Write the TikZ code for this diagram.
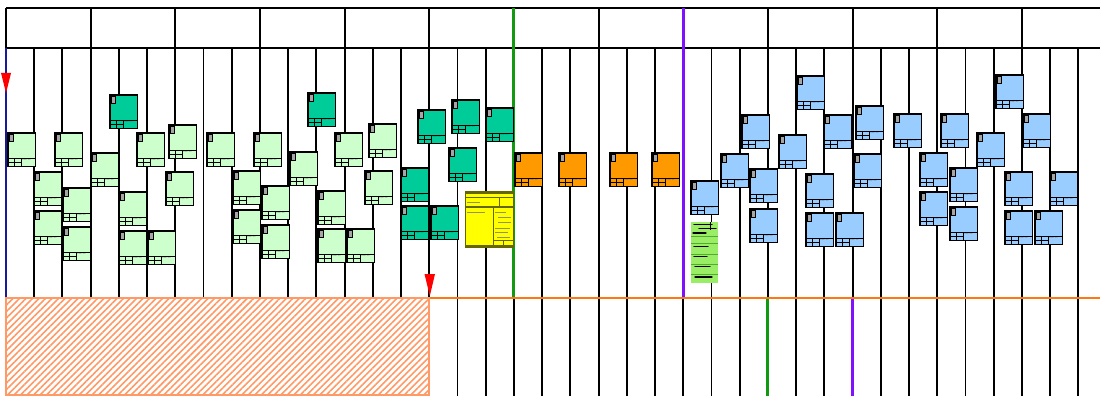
\documentclass[tikz,border=0pt]{standalone}
\usetikzlibrary{patterns.meta}
\definecolor{lgreen}{HTML}{CCFFCC}
\definecolor{teal2}{HTML}{00CC99}
\definecolor{orng}{HTML}{FF9900}
\definecolor{lblue}{HTML}{99CCFF}
\definecolor{yel}{HTML}{FFFF00}
\definecolor{strip}{HTML}{99EE66}
\definecolor{stripline}{HTML}{55AA33}
\definecolor{grn}{HTML}{119911}
\definecolor{purp}{HTML}{7F11FF}
\definecolor{orline}{HTML}{FF7711}
\definecolor{hatch}{HTML}{FF9966}
\definecolor{dblue}{HTML}{1A1A99}
\definecolor{olv}{HTML}{666600}
\tikzset{
  cardbox/.style={draw=black, line width=1.3pt, anchor=north west, minimum width=27.5pt, minimum height=33.5pt, inner sep=0pt, outer sep=0pt},
  cardline/.style={draw=black, line width=0.9pt},
  iconbox/.style={draw=black, line width=0.8pt, fill=black!35},
  tinytext/.style={font=\fontsize{1.6}{2}\selectfont, inner sep=0pt, text=black!70},
  rule/.style={draw=black, line width=1.9pt},
  hdr/.style={draw=black, line width=1.9pt},
}
\newcommand{\card}[4]{%
  \node[cardbox, fill=#4] (#1) at (#2,#3) {};
  \begin{scope}[shift={(#2,#3)}]
    \draw[iconbox] (1.6,1.6) rectangle (5,8);
    \draw[cardline] (0,25.3) -- (27.5,25.3);
    \draw[cardline] (6.5,25.3) -- (6.5,33.5) (13,25.3) -- (13,33.5) (0,29.4) -- (13,29.4);
    \node[tinytext, anchor=west] at (13.6,27.3) {Unknown};
  \end{scope}}
\begin{document}
\begin{tikzpicture}[x=1pt,y=-1pt]
\useasboundingbox (0,0) rectangle (1100,396);
% header
\draw[hdr] (6,8) -- (1100,8);
\draw[hdr] (6,48) -- (1100,48);
\foreach \k in {0,...,12} {
  \draw[hdr] ({6+84.66*\k},8) -- ({6+84.66*\k},48);
}
% vertical rules
\foreach \i in {1,...,38} {
  \draw[rule] ({6+28.22*\i},48) -- ({6+28.22*\i},298);
}
\foreach \i in {16,...,38} {
  \draw[rule] ({6+28.22*\i},298) -- ({6+28.22*\i},396);
}
\draw[dblue, line width=2.2pt] (6,48) -- (6,298);
\draw[dblue, line width=2pt] ({6+28.22*15},298) -- ({6+28.22*15},396);
\draw[grn, line width=3pt] ({6+28.22*18},8) -- ({6+28.22*18},298);
\draw[purp, line width=3pt] ({6+28.22*24},8) -- ({6+28.22*24},298);
\draw[grn, line width=3pt] ({6+28.22*27},298) -- ({6+28.22*27},396);
\draw[purp, line width=3pt] ({6+28.22*30},298) -- ({6+28.22*30},396);
% orange line and hatched area
\draw[orline, line width=2pt] (6,298) -- (1100,298);
\path[pattern={Lines[angle=45,distance=4.6pt,line width=1.6pt]}, pattern color=hatch] (6,298) rectangle (429,395);
\draw[hatch, line width=1.8pt] (6,298) rectangle (429,395);
% light green group 1
\card{a1}{8}{133}{lgreen}
\card{a2}{55}{133}{lgreen}
\card{a3}{34}{172}{lgreen}
\card{a4}{34}{211}{lgreen}
\card{a5}{63}{188}{lgreen}
\card{a6}{63}{227}{lgreen}
\card{a7}{91}{153}{lgreen}
\card{a8}{119}{192}{lgreen}
\card{a9}{119}{231}{lgreen}
\card{a10}{148}{231}{lgreen}
\card{a11}{137}{133}{lgreen}
\card{a12}{169}{125}{lgreen}
\card{a13}{166}{172}{lgreen}
\card{t1}{110}{95}{teal2}
% light green group 2
\card{b1}{207}{133}{lgreen}
\card{b2}{254}{133}{lgreen}
\card{b3}{233}{171}{lgreen}
\card{b4}{233}{210}{lgreen}
\card{b5}{262}{186}{lgreen}
\card{b6}{262}{225}{lgreen}
\card{b7}{290}{152}{lgreen}
\card{b8}{318}{191}{lgreen}
\card{b9}{318}{229}{lgreen}
\card{b10}{347}{229}{lgreen}
\card{b11}{335}{133}{lgreen}
\card{b12}{369}{124}{lgreen}
\card{b13}{365}{171}{lgreen}
\card{t2}{308}{93}{teal2}
% teal group
\card{t3}{418}{110}{teal2}
\card{t4}{452}{100}{teal2}
\card{t5}{486}{108}{teal2}
\card{t6}{449}{148}{teal2}
\card{t7}{401}{168}{teal2}
\card{t8}{401}{206}{teal2}
\card{t9}{431}{206}{teal2}
% yellow form
\node[draw=olv, line width=1.3pt, fill=yel, anchor=north west, minimum width=48pt, minimum height=56pt, inner sep=0pt] (y1) at (465,191) {};
\fill[olv] (465,191) rectangle (513,193.5);
\fill[olv] (465,244.5) rectangle (513,247);
\draw[olv, line width=0.7pt] (465,197) -- (513,197) (499,197) -- (499,207);
\draw[olv, line width=1.3pt] (465,207) -- (513,207);
\draw[olv, line width=0.8pt] (493,207) -- (493,245) (493,240) -- (513,240) (503,240) -- (503,245);
\draw[olv!70, line width=0.4pt] (467,202) -- (480,202) (495,212) -- (506,212) (498,217) -- (511,217) (498,222) -- (511,222) (495,228) -- (510,228) (495,232) -- (508,232) (497,237) -- (510,237) (467,212) -- (485,212);
% orange
\card{o1}{515}{153}{orng}
\card{o2}{559}{153}{orng}
\card{o3}{610}{153}{orng}
\card{o4}{652}{153}{orng}
% green strip
\node[fill=strip, anchor=north west, minimum width=26.5pt, minimum height=61pt, inner sep=0pt] (s1) at (691,222) {};
\draw[stripline, line width=0.6pt] (691,236) -- (717.5,236) (691,243) -- (717.5,243) (691,254) -- (717.5,254) (691,264) -- (717.5,264) (691,274) -- (717.5,274);
\draw[black, line width=1.3pt, line cap=round] (694,224.5) -- (712,224.5) (699,228.5) -- (716,228.5) (693,233) -- (706,233) (694,246.5) -- (708,246.5) (694,256.5) -- (707,256.5) (695,266.5) -- (710,266.5) (695,277) -- (712,277);
\draw[black, line width=1.2pt] (710.8,222) -- (710.8,230);
% blue
\card{c1}{691}{181}{lblue}
\card{c2}{721}{154}{lblue}
\card{c3}{742}{115}{lblue}
\card{c4}{750}{169}{lblue}
\card{c5}{750}{209}{lblue}
\card{c6}{779}{135}{lblue}
\card{c7}{797}{76}{lblue}
\card{c8}{806}{174}{lblue}
\card{c9}{806}{213}{lblue}
\card{c10}{836}{213}{lblue}
\card{c11}{824}{115}{lblue}
\card{c12}{856}{106}{lblue}
\card{c13}{854}{154}{lblue}
\card{c14}{894}{114}{lblue}
\card{c15}{920}{153}{lblue}
\card{c16}{920}{192}{lblue}
\card{c17}{941}{114}{lblue}
\card{c18}{950}{168}{lblue}
\card{c19}{950}{207}{lblue}
\card{c20}{977}{133}{lblue}
\card{c21}{996}{75}{lblue}
\card{c22}{1023}{114}{lblue}
\card{c23}{1005}{172}{lblue}
\card{c24}{1005}{211}{lblue}
\card{c25}{1035}{211}{lblue}
\card{c26}{1050}{172}{lblue}
% red markers
\fill[red] (1,73) -- (11,73) -- (6,93) -- cycle;
\fill[red] (424.5,274) -- (435,274) -- (429.8,296) -- cycle;
\end{tikzpicture}
\end{document}
